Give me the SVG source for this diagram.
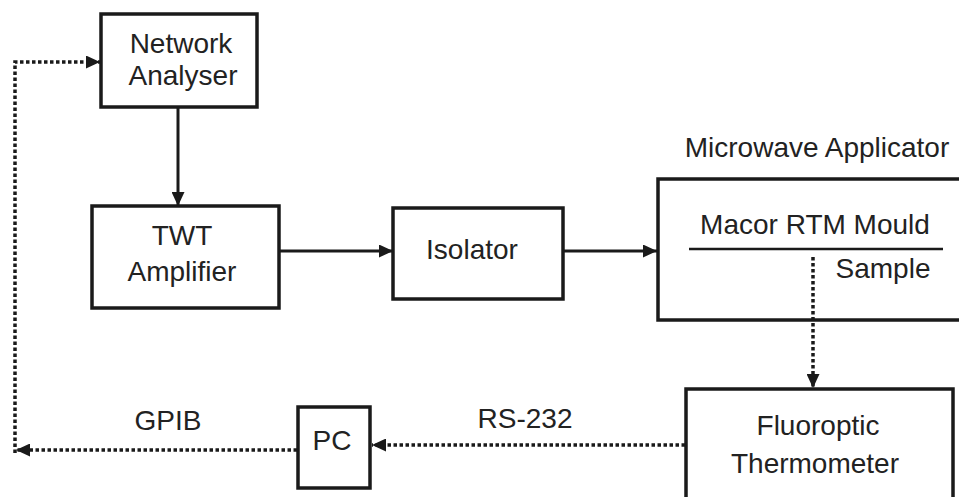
<svg xmlns="http://www.w3.org/2000/svg" width="959" height="497" viewBox="0 0 959 497">
<style>
.box{fill:#fff;stroke:#1a1a1a;stroke-width:3.5}
.t{font-family:"Liberation Sans",Arial,sans-serif;font-size:28px;fill:#222;text-anchor:middle}
.solid{fill:none;stroke:#1a1a1a;stroke-width:3}
.dot{fill:none;stroke:#1a1a1a;stroke-width:3.5;stroke-dasharray:3.5 2.5}
</style>
<defs>
<marker id="ah" markerUnits="userSpaceOnUse" markerWidth="15" markerHeight="13" refX="14" refY="6.5" orient="auto">
<path d="M0,0 L14,6.5 L0,13 z" fill="#1a1a1a"/>
</marker>
</defs>
<rect width="959" height="497" fill="#fff"/>
<g id="network-analyser">
<rect class="box" x="101" y="14" width="156" height="93"/>
<text class="t" x="181" y="53">Network</text>
<text class="t" x="183" y="85">Analyser</text>
</g>
<g id="twt-amplifier">
<rect class="box" x="92" y="206" width="187" height="102"/>
<text class="t" x="182" y="245">TWT</text>
<text class="t" x="182" y="281">Amplifier</text>
</g>
<g id="isolator">
<rect class="box" x="393" y="208" width="170" height="91"/>
<text class="t" x="472" y="259">Isolator</text>
</g>
<g id="microwave-applicator">
<text class="t" x="817" y="157">Microwave Applicator</text>
<rect class="box" x="658" y="179" width="310" height="141"/>
<text class="t" x="815" y="234">Macor RTM Mould</text>
<line x1="689" y1="249" x2="943" y2="249" stroke="#1a1a1a" stroke-width="2.5"/>
<text class="t" x="883" y="278">Sample</text>
</g>
<g id="fluoroptic-thermometer">
<rect class="box" x="686" y="389" width="267" height="120"/>
<text class="t" x="818" y="435">Fluoroptic</text>
<text class="t" x="815" y="473">Thermometer</text>
</g>
<g id="pc">
<rect class="box" x="298" y="407" width="72" height="81"/>
<text class="t" x="332" y="450">PC</text>
</g>
<g id="connectors">
<line class="solid" x1="178" y1="107" x2="178" y2="206" marker-end="url(#ah)"/>
<line class="solid" x1="279" y1="251" x2="393" y2="251" marker-end="url(#ah)"/>
<line class="solid" x1="563" y1="251" x2="657" y2="251" marker-end="url(#ah)"/>
<line class="dot" x1="813" y1="257" x2="813" y2="388" marker-end="url(#ah)"/>
<line class="dot" x1="685" y1="445" x2="372" y2="445" marker-end="url(#ah)"/>
<line class="dot" x1="297" y1="450" x2="16" y2="450" marker-end="url(#ah)"/>
<path class="dot" d="M15,453 L15,62 L100,62" marker-end="url(#ah)"/>
<text class="t" x="525" y="428">RS-232</text>
<text class="t" x="168" y="430">GPIB</text>
</g>
</svg>
